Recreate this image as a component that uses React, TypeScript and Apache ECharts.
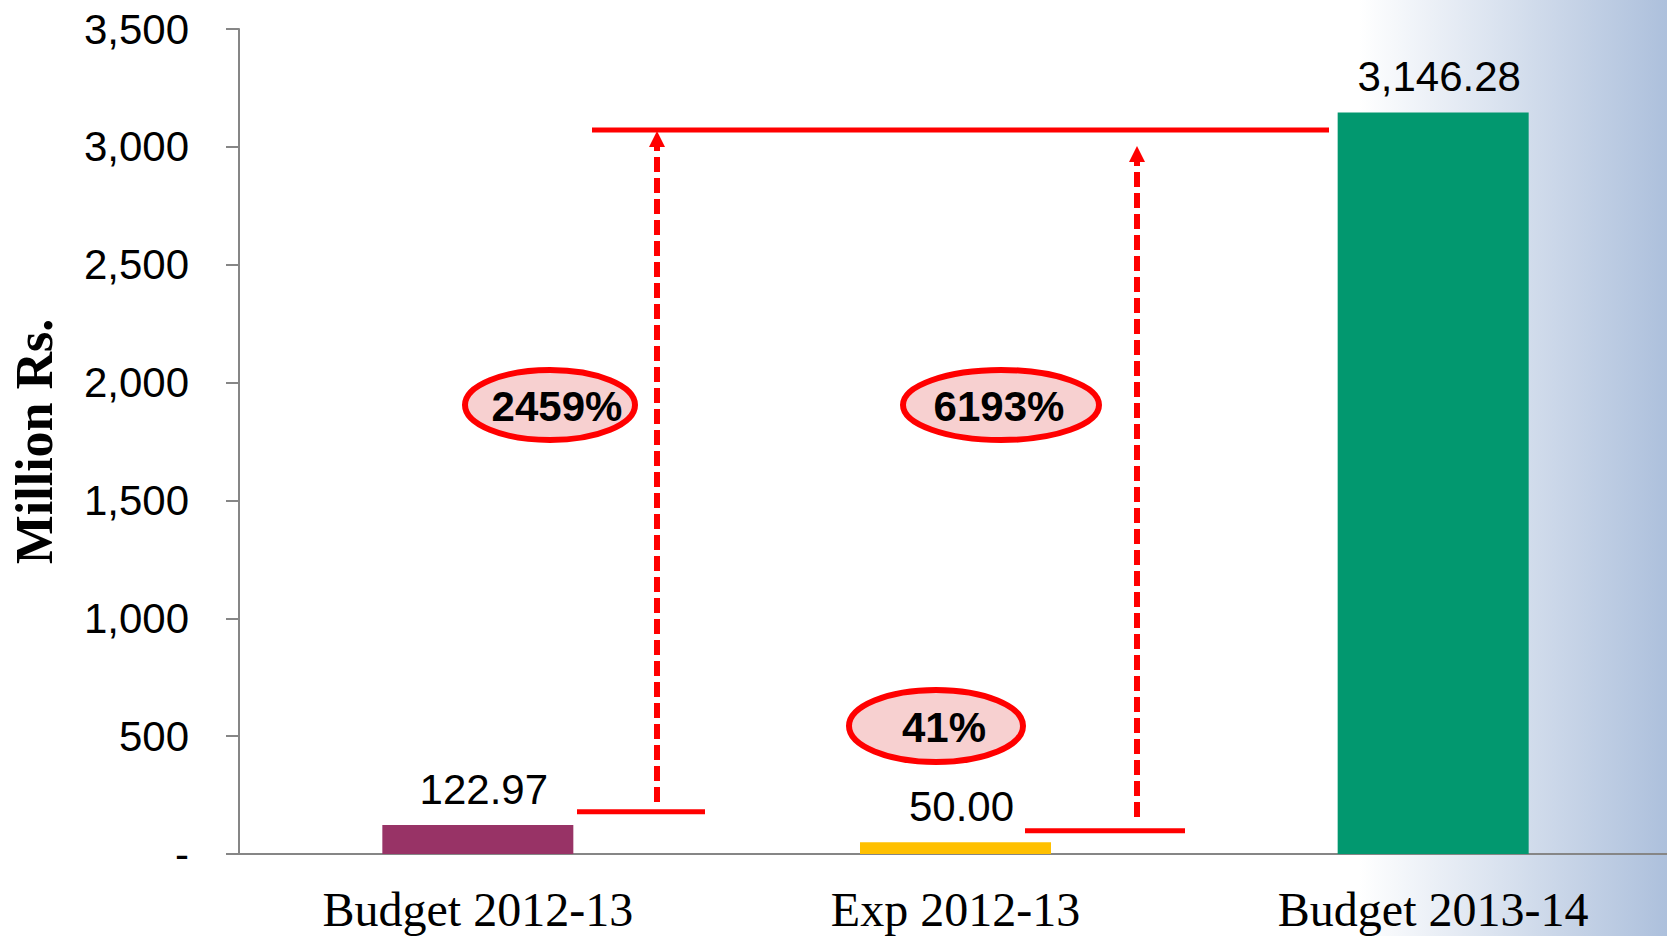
import React, { useEffect, useRef } from "react";
import * as echarts from "echarts";

const categories = ["Budget 2012-13", "Exp 2012-13", "Budget 2013-14"];
const values = [122.97, 50.0, 3146.28];
const barColors = ["#983366", "#FFC000", "#02986F"];
const yTicks = { min: 0, max: 3500, interval: 500 };
const yAxisName = "Million Rs.";
const growthLabels = ["2459%", "6193%", "41%"];

const fmtValue = (v: number) =>
  v.toLocaleString("en-US", { minimumFractionDigits: 2, maximumFractionDigits: 2 });

export default function App() {
  const ref = useRef<HTMLDivElement>(null);
  useEffect(() => {
    document.body.style.margin = "0";
    const chart = echarts.init(ref.current!, undefined, { renderer: "svg" });
    const red = "#FF0000";
    const sans = "'Liberation Sans', Arial, sans-serif";
    const serif = "'Liberation Serif', 'Times New Roman', serif";
    const pctText = (text: string, x: number, y: number) => ({
      type: "text",
      x,
      y,
      z: 102,
      style: {
        text,
        font: `bold 42px ${sans}`,
        fill: "#000",
        align: "center",
        verticalAlign: "middle",
      },
    });
    const ell = (cx: number, cy: number, rx: number, ry: number) => ({
      type: "ellipse",
      z: 101,
      shape: { cx, cy, rx, ry },
      style: { fill: "#f7d0d0", stroke: red, lineWidth: 6 },
    });
    const hline = (x1: number, x2: number, y: number) => ({
      type: "line",
      z: 100,
      shape: { x1, y1: y, x2, y2: y },
      style: { stroke: red, lineWidth: 5 },
    });
    const arrow = (x: number, yBottom: number, yTip: number) => [
      {
        type: "line",
        z: 100,
        shape: { x1: x, y1: yBottom, x2: x, y2: yTip + 15 },
        style: { stroke: red, lineWidth: 6, lineDash: [15, 6] },
      },
      {
        type: "polygon",
        z: 100,
        shape: { points: [[x, yTip], [x - 8, yTip + 16], [x + 8, yTip + 16]] },
        style: { fill: red },
      },
    ];
    chart.setOption({
      animation: false,
      backgroundColor: new echarts.graphic.LinearGradient(0, 0, 1, 0, [
        { offset: 0, color: "#ffffff" },
        { offset: 0.815, color: "#ffffff" },
        { offset: 1, color: "#adc0dc" },
      ]),
      grid: { left: 239, width: 1433, top: 29, bottom: 82, outerBoundsMode: "none" },
      xAxis: {
        type: "category",
        data: categories,
        axisLine: { lineStyle: { color: "#868686", width: 2 } },
        axisTick: { show: false },
        axisLabel: { color: "#000", fontFamily: serif, fontSize: 48, margin: 31 },
      },
      yAxis: {
        type: "value",
        min: yTicks.min,
        max: yTicks.max,
        interval: yTicks.interval,
        name: yAxisName,
        nameLocation: "middle",
        nameRotate: 90,
        nameGap: 179,
        nameTextStyle: { color: "#000", fontFamily: serif, fontSize: 52, fontWeight: "bold" },
        axisLine: { show: true, lineStyle: { color: "#868686", width: 2 } },
        axisTick: { show: true, length: 13, lineStyle: { color: "#868686", width: 2 } },
        splitLine: { show: false },
        axisLabel: {
          color: "#000",
          fontFamily: sans,
          fontSize: 42,
          margin: 50,
          formatter: (v: number) => (v === 0 ? "-" : v.toLocaleString("en-US")),
        },
      },
      series: [
        {
          type: "bar",
          barWidth: 191,
          data: values.map((v, i) => ({ value: v, itemStyle: { color: barColors[i] } })),
          label: {
            show: true,
            position: "top",
            distance: 15,
            color: "#000",
            fontFamily: sans,
            fontSize: 42,
            offset: [6, 0],
            formatter: (p: any) => fmtValue(p.value),
          },
        },
      ],
      graphic: [
        hline(592, 1329, 130),
        hline(577, 705, 811.7),
        hline(1025, 1185, 830.7),
        ...arrow(657, 802, 131),
        ...arrow(1137, 817, 146),
        ell(550, 405, 85, 35),
        ell(1001, 405, 98, 35),
        ell(936, 726, 87, 36),
        pctText(growthLabels[0], 557, 406),
        pctText(growthLabels[1], 999, 406),
        pctText(growthLabels[2], 944, 727),
      ],
    });
    return () => chart.dispose();
  }, []);
  return <div ref={ref} style={{ width: 1667, height: 936 }} />;
}
